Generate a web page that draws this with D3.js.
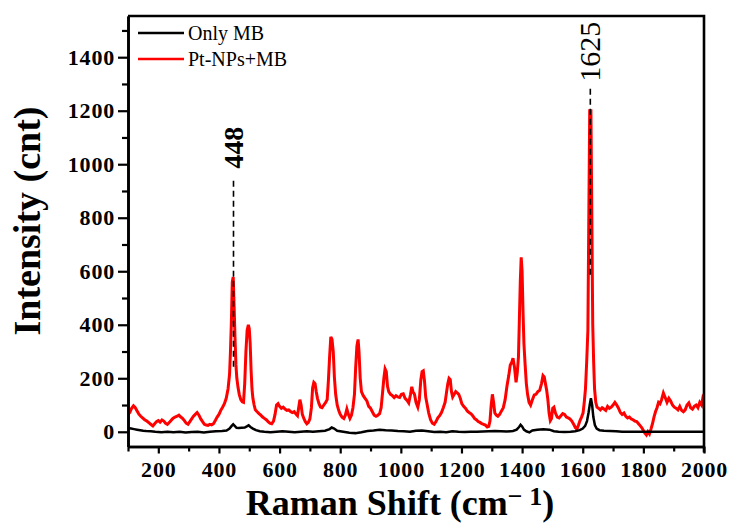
<!DOCTYPE html>
<html>
<head>
    <meta charset="utf-8">
    <title>Raman</title>
    <script src="https://cdn.jsdelivr.net/npm/d3@7"></script>
    <style>
        body { margin: 0; background: #fff; }
        svg text { font-family: "Liberation Serif", "Times New Roman", serif !important; }
    </style>
</head>
<body>
    <script>
        // Pt-NPs+MB spectrum (red)
        var shiftPt = [100,106,112,118,124,130,136,142,148,155,162,168,175,182,188,194,200,206,212,218,224,230,236,242,248,255,262,268,274,280,286,292,298,304,310,316,322,328,334,340,346,352,358,364,370,376,382,388,394,400,406,412,418,424,430,435,438,441,444,447,450,453,456,459,463,467,472,477,481,485,489,493,497,500,503,506,509,512,516,520,526,532,538,544,550,556,562,568,574,580,585,590,595,600,606,612,618,624,630,636,642,648,654,659,663,667,671,675,680,685,690,695,700,705,709,713,717,721,725,730,735,740,746,752,757,761,765,769,773,777,781,785,790,795,800,806,812,817,822,827,832,837,842,847,851,855,859,862,866,870,876,882,888,894,900,906,912,918,924,930,935,940,944,948,952,956,960,966,972,978,984,990,996,1002,1008,1014,1020,1026,1032,1036,1040,1045,1050,1056,1061,1066,1070,1074,1078,1082,1087,1092,1098,1104,1110,1116,1122,1128,1134,1140,1146,1151,1155,1159,1163,1167,1171,1176,1181,1186,1191,1196,1201,1207,1213,1219,1225,1231,1237,1243,1249,1255,1261,1267,1273,1279,1285,1290,1294,1298,1302,1306,1310,1315,1320,1326,1332,1338,1344,1350,1356,1361,1366,1370,1375,1380,1384,1388,1391,1394,1397,1400,1403,1406,1410,1414,1418,1423,1428,1434,1440,1446,1452,1458,1464,1469,1473,1477,1481,1485,1489,1493,1497,1501,1505,1510,1516,1522,1528,1534,1540,1546,1552,1558,1564,1570,1576,1581,1586,1591,1596,1601,1605,1609,1613,1617,1620,1623,1627,1630,1633,1636,1639,1643,1647,1652,1658,1664,1670,1676,1682,1688,1694,1700,1706,1712,1718,1724,1730,1736,1742,1748,1754,1760,1766,1772,1778,1784,1790,1795,1800,1805,1810,1815,1820,1825,1830,1835,1840,1845,1850,1855,1860,1866,1872,1878,1884,1890,1896,1902,1908,1914,1920,1926,1932,1938,1944,1950,1956,1962,1968,1974,1980,1986,1992,1996,2000];
        var countPt = [65,72,88,97,90,78,66,58,52,45,40,35,28,22,30,38,42,36,44,40,32,28,35,42,50,55,58,62,55,50,42,32,28,38,48,58,65,72,62,48,38,28,25,24,28,26,30,42,55,65,80,92,105,125,160,215,300,410,560,578,470,350,250,200,165,140,120,112,110,180,300,380,400,385,330,230,160,125,100,82,75,68,62,55,50,45,38,32,30,40,65,100,105,95,88,92,85,80,82,76,72,75,66,60,90,120,100,65,50,38,30,35,48,90,165,185,180,150,125,105,92,90,100,110,120,190,280,355,345,300,200,140,100,80,65,55,50,62,85,65,50,62,90,140,240,320,345,300,200,150,135,125,115,95,88,75,62,58,62,68,90,150,200,235,225,170,150,140,135,128,135,130,128,140,142,125,118,108,140,168,150,140,110,92,120,195,225,228,190,130,100,70,45,32,28,38,52,60,72,90,110,150,180,200,195,150,130,140,150,145,140,125,105,95,88,78,72,68,60,50,45,38,35,30,28,25,18,20,40,100,140,110,70,62,58,65,78,90,120,170,210,250,260,275,240,185,220,280,420,560,652,600,450,330,250,180,140,110,100,120,138,140,150,155,180,210,205,180,155,120,70,42,50,88,92,70,55,52,60,68,65,55,52,48,40,28,15,10,25,42,55,70,110,160,260,380,800,1200,1200,800,400,260,160,110,92,88,82,90,85,80,95,88,92,100,110,100,88,72,65,70,58,52,55,48,45,40,38,30,22,15,5,-5,-12,0,-8,10,30,55,75,90,110,105,120,145,128,110,125,115,100,92,88,82,95,80,75,82,100,108,90,85,95,100,90,110,100,125,115];

        // Only MB spectrum (black)
        var shiftMB = [100,110,120,130,140,150,160,175,190,210,230,250,270,290,310,330,350,370,390,410,425,435,442,447,452,458,465,475,485,492,498,504,512,522,535,550,570,590,610,630,650,670,690,710,730,750,765,772,780,790,810,830,850,870,890,910,930,950,970,990,1010,1030,1050,1070,1090,1110,1130,1150,1170,1190,1210,1230,1250,1270,1290,1310,1330,1350,1370,1382,1390,1395,1400,1406,1414,1424,1434,1450,1470,1490,1505,1520,1540,1560,1575,1590,1600,1608,1614,1619,1623,1627,1631,1635,1640,1646,1655,1670,1690,1710,1730,1760,1800,1850,1900,1950,2000];
        var countMB = [14,12,10,8,6,4,3,2,0,-2,0,-2,0,-3,-1,0,-3,0,2,3,5,12,22,28,22,15,14,15,16,20,24,18,12,6,2,0,-2,0,2,0,-2,0,2,0,2,4,10,16,12,4,0,-4,-5,-2,3,5,8,6,5,3,2,0,4,5,2,-1,0,-2,2,0,-1,0,0,1,2,3,2,1,3,8,18,26,20,8,2,-2,5,8,9,8,2,0,-1,0,2,6,12,22,40,70,100,125,100,55,25,12,6,4,3,2,0,0,0,0,0,0,0];

        var xTicks = [200,400,600,800,1000,1200,1400,1600,1800,2000];
        var xMinor = [100,300,500,700,900,1100,1300,1500,1700,1900];
        var yTicks = [0,200,400,600,800,1000,1200,1400];
        var yMinor = [100,300,500,700,900,1100,1300,1500];

        var seriesNames = ["Only MB", "Pt-NPs+MB"];
        var seriesColors = ["#000000", "#ff0000"];

        var peakShifts = [448, 1625];
        var peakLines = [[228, 938], [583, 1282]];   // dashed marker span (intensity)
        var peakLabelAt = [1062, 1420];

        var width = 730, height = 523;
        var mLeft = 128, mRight = 704, mTop = 16, mBottom = 446.5;
        var serif = "'Liberation Serif', 'Times New Roman', serif";

        var x = d3.scaleLinear().domain([100, 2000]).range([mLeft, mRight]);
        var y = d3.scaleLinear().domain([-55, 1554]).range([mBottom, mTop]);

        var svg = d3.select("body").append("svg")
            .attr("width", width)
            .attr("height", height);

        var line = d3.line()
            .x(function(d) { return x(d[0]); })
            .y(function(d) { return y(d[1]); });

        var mb = d3.zip(shiftMB, countMB);
        var pt = d3.zip(shiftPt, countPt);

        svg.append("defs").append("clipPath").attr("id", "clip")
            .append("rect").attr("x", mLeft).attr("y", mTop)
            .attr("width", mRight - mLeft).attr("height", mBottom - mTop);

        var plot = svg.append("g").attr("clip-path", "url(#clip)");

        plot.append("path").datum(pt)
            .attr("d", line)
            .attr("fill", "none")
            .attr("stroke", seriesColors[1])
            .attr("stroke-width", 3)
            .attr("stroke-linejoin", "miter");

        plot.append("path").datum(mb)
            .attr("d", line)
            .attr("fill", "none")
            .attr("stroke", seriesColors[0])
            .attr("stroke-width", 2.5);

        // dashed peak markers
        svg.selectAll(".peak")
            .data(peakShifts)
            .enter()
            .append("line")
            .attr("x1", function(d) { return x(d); })
            .attr("x2", function(d) { return x(d); })
            .attr("y1", function(d, i) { return y(peakLines[i][1]); })
            .attr("y2", function(d, i) { return y(peakLines[i][0]); })
            .attr("stroke", "#000")
            .attr("stroke-width", 1.6)
            .attr("stroke-dasharray", "6,4");

        svg.selectAll(".peaklabel")
            .data(peakShifts)
            .enter()
            .append("text")
            .attr("transform", function(d, i) {
                return "translate(" + (x(d) + 10) + "," + y(peakLabelAt[i]) + ") rotate(-90)";
            })
            .attr("text-anchor", "middle")
            .style("font-family", serif)
            .attr("font-size", function(d, i) { return i == 0 ? "28px" : "30px"; })
            .attr("font-weight", function(d, i) { return i == 0 ? "bold" : "normal"; })
            .text(function(d) { return d; });

        // axes
        svg.append("g")
            .attr("transform", "translate(0," + mBottom + ")")
            .call(d3.axisBottom(x).tickValues(xTicks).tickFormat(d3.format("d"))
                .tickSize(7).tickPadding(8).tickSizeOuter(0));
        svg.append("g")
            .attr("transform", "translate(0," + mBottom + ")")
            .call(d3.axisBottom(x).tickValues(xMinor).tickSize(5).tickFormat("").tickSizeOuter(0));

        svg.append("g")
            .attr("transform", "translate(" + mLeft + ",0)")
            .call(d3.axisLeft(y).tickValues(yTicks).tickFormat(d3.format("d"))
                .tickSize(10).tickPadding(3).tickSizeOuter(0));
        svg.append("g")
            .attr("transform", "translate(" + mLeft + ",0)")
            .call(d3.axisLeft(y).tickValues(yMinor).tickSize(6).tickFormat("").tickSizeOuter(0));

        svg.selectAll(".domain").attr("stroke", "#000").attr("stroke-width", 2.6);
        svg.selectAll(".tick line").attr("stroke", "#000").attr("stroke-width", 2.2);
        svg.selectAll(".tick text")
            .attr("fill", "#000")
            .style("font-family", serif)
            .attr("font-weight", "bold")
            .attr("font-size", "22px")
            .attr("letter-spacing", "0.8px");

        // frame top / right
        svg.append("path")
            .attr("d", "M" + mLeft + "," + mTop + "H" + mRight + "V" + (mBottom + 6))
            .attr("fill", "none")
            .attr("stroke", "#000")
            .attr("stroke-width", 2.6);

        // axis titles
        var xt = svg.append("text")
            .attr("x", (mLeft + mRight) / 2 - 16)
            .attr("y", 515)
            .attr("text-anchor", "middle")
            .style("font-family", serif)
            .attr("font-weight", "bold")
            .attr("font-size", "36px");
        xt.append("tspan").text("Raman Shift (cm");
        xt.append("tspan").attr("dy", -10).attr("font-size", "26px").text("\u2212 1");
        xt.append("tspan").attr("dy", 10).text(")");

        svg.append("text")
            .attr("transform", "translate(40,221) rotate(-90)")
            .attr("text-anchor", "middle")
            .style("font-family", serif)
            .attr("font-weight", "bold")
            .attr("font-size", "38px")
            .text("Intensity (cnt)");

        // legend
        var legend = svg.selectAll(".legend")
            .data(seriesNames)
            .enter()
            .append("g")
            .attr("transform", function(d, i) { return "translate(138," + (33 + i * 26) + ")"; });
        legend.append("line")
            .attr("x1", 0).attr("x2", 46)
            .attr("stroke", function(d, i) { return seriesColors[i]; })
            .attr("stroke-width", 2.5);
        legend.append("text")
            .attr("x", 50).attr("y", 7)
            .style("font-family", serif)
            .attr("font-size", "20px")
            .text(function(d) { return d; });
    </script>
</body>
</html>
